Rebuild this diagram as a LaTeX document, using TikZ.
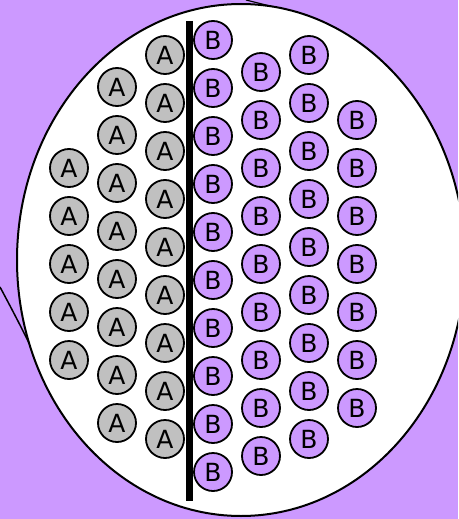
\documentclass[tikz,border=0pt]{standalone}
\usepackage{fontspec}
\setmainfont{DejaVu Sans}
\usetikzlibrary{shapes.geometric}
\definecolor{bgpurple}{HTML}{CC99FF}
\definecolor{agray}{HTML}{C0C0C0}
\begin{document}
\begin{tikzpicture}[x=1pt,y=-1pt,
  ball/.style={circle,draw=black,line width=1.8pt,minimum size=38pt,inner sep=0pt,font=\fontsize{25}{25}\selectfont},
  aball/.style={ball,fill=agray},
  bball/.style={ball,fill=bgpurple},
  outline/.style={draw=black,line width=2pt},
  stray/.style={draw=black,line width=1.5pt}]
\useasboundingbox (0,0) rectangle (458,519);
\clip (0,0) rectangle (458,519);
\fill[bgpurple] (0,0) rectangle (458,519);
% stray strokes
\coordinate (s1) at (0,287);
\coordinate (s2) at (40,366);
\draw[stray] (s1) .. controls (15,315) and (28,340) .. (s2);
\coordinate (t1) at (246,0);
\coordinate (t2) at (274,7);
\draw[stray,line width=1.2pt] (t1) -- (t2);
% white ellipse
\node[outline,fill=white,ellipse,minimum width=448pt,minimum height=512pt,inner sep=0pt] (oval) at (241,260) {};
% divider bar
\coordinate (bartop) at (189,21);
\coordinate (barbot) at (189,501);
\draw[line width=7pt] (bartop) -- (barbot);
% A columns
\foreach \i in {0,...,4} \node[aball] (a1-\i) at (69,168+48*\i) {A};
\foreach \i in {0,...,7} \node[aball] (a2-\i) at (117,87+48*\i) {A};
\foreach \i in {0,...,8} \node[aball] (a3-\i) at (165,55+48*\i) {A};
% B columns
\foreach \i in {0,...,9} \node[bball] (b1-\i) at (213,40+48*\i) {B};
\foreach \i in {0,...,8} \node[bball] (b2-\i) at (261,72+48*\i) {B};
\foreach \i in {0,...,8} \node[bball] (b3-\i) at (309,55+48*\i) {B};
\foreach \i in {0,...,6} \node[bball] (b4-\i) at (357,120+48*\i) {B};
\end{tikzpicture}
\end{document}
